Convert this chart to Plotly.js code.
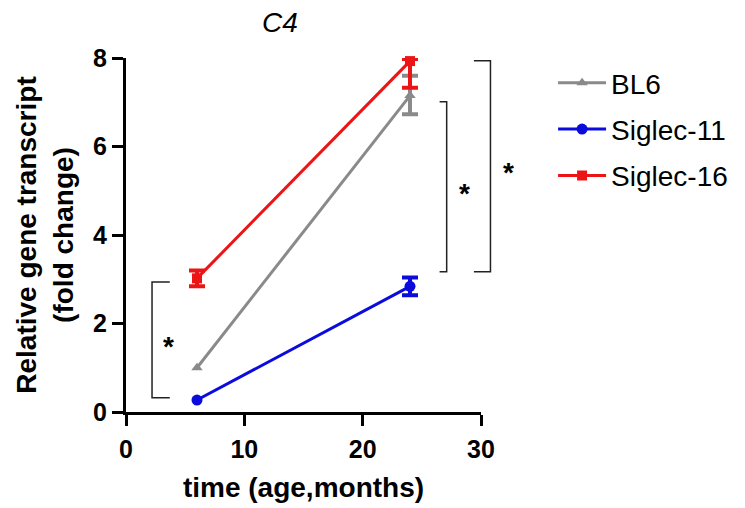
<!DOCTYPE html>
<html>
<head>
<meta charset="utf-8">
<script src="https://cdn.plot.ly/plotly-3.0.1.min.js"></script>
<style>html,body{margin:0;padding:0;background:#fff;}#chart{width:745px;height:508px;}</style>
</head>
<body>
<div id="chart"></div>
<script>
// Data
const timeMonths = [6, 24];
const seriesNames = ["BL6", "Siglec-11", "Siglec-16"];
const bl6 = [1.0, 7.15];
const bl6ErrPlus = [null, 0.45];
const bl6ErrMinus = [null, 0.42];
const siglec11 = [0.27, 2.84];
const siglec11ErrPlus = [null, 0.2];
const siglec11ErrMinus = [null, 0.2];
const siglec16 = [3.02, 7.93];
const siglec16ErrPlus = [0.18, 0.05];
const siglec16ErrMinus = [0.18, 0.6];
const xTicks = [0, 10, 20, 30];
const yTicks = [0, 2, 4, 6, 8];
// significance brackets: [xVertical, xTickStart, yTop, yBottom, starX, starY]
const brackets = [
  [2.2, 3.7, 2.94, 0.32, 3.6, 1.58],
  [27.1, 26.5, 7.01, 3.17, 28.6, 5.02],
  [30.8, 29.4, 7.94, 3.17, 32.3, 5.5]
];

const FONT = "Liberation Sans, Arial, sans-serif";
const colors = ["#8a8a8a", "#0b0bdc", "#ec1414"];
const symbols = ["triangle-up", "circle", "square"];
const ys = [bl6, siglec11, siglec16];
const ep = [bl6ErrPlus, siglec11ErrPlus, siglec16ErrPlus];
const em = [bl6ErrMinus, siglec11ErrMinus, siglec16ErrMinus];

// error bars only where an error was read (separate, legend-less traces)
const errTraces = seriesNames.map((n, i) => {
  const idx = timeMonths.map((_, k) => k).filter(k => ep[i][k] !== null);
  return {
    type: "scatter", mode: "markers", showlegend: false, hoverinfo: "skip",
    x: idx.map(k => timeMonths[k]), y: idx.map(k => ys[i][k]),
    marker: {color: "rgba(0,0,0,0)", size: 1},
    error_y: {type: "data", symmetric: false, array: idx.map(k => ep[i][k]),
              arrayminus: idx.map(k => em[i][k]), color: colors[i], thickness: 4, width: 8},
    cliponaxis: false
  };
});

const lineTraces = seriesNames.map((n, i) => ({
  type: "scatter", mode: "lines+markers", name: n, legendgroup: n,
  x: timeMonths, y: ys[i],
  line: {color: colors[i], width: 3},
  marker: {color: colors[i], symbol: symbols[i], size: i === 1 ? 11 : 10},
  cliponaxis: false
}));

const XR = [0, 30], YR = [0, 8];
const px = v => (v - XR[0]) / (XR[1] - XR[0]);
const py = v => (v - YR[0]) / (YR[1] - YR[0]);

const shapes = [];
const annotations = [];
brackets.forEach(b => {
  const [xv, xt, yt, yb, sx, sy] = b;
  const path = `M ${px(xt)},${py(yt)} L ${px(xv)},${py(yt)} L ${px(xv)},${py(yb)} L ${px(xt)},${py(yb)}`;
  shapes.push({type: "path", xref: "paper", yref: "paper", path: path,
    line: {color: "#222", width: 1.5}});
  annotations.push({xref: "paper", yref: "paper", x: px(sx), y: py(sy), yshift: -4,
    text: "<b>*</b>", showarrow: false, font: {family: FONT, size: 28, color: "#000"},
    xanchor: "center", yanchor: "middle"});
});

const layout = {
  width: 745, height: 508,
  margin: {l: 126, r: 264, t: 58, b: 96, autoexpand: false},
  paper_bgcolor: "#fff", plot_bgcolor: "#fff",
  font: {family: FONT, color: "#000"},
  title: {text: "<i>C4</i>", x: 280/745, xanchor: "center", y: 1 - 22/508, yanchor: "middle",
    font: {size: 28, color: "#000"}},
  xaxis: {range: XR, tickvals: xTicks, ticktext: xTicks.map(String),
    showgrid: false, zeroline: false, showline: true, linecolor: "#000", linewidth: 3,
    ticks: "outside", ticklen: 11, tickwidth: 3, tickcolor: "#000", ticklabelstandoff: 2,
    tickfont: {size: 25, family: FONT, weight: "bold"},
    title: {text: "<b>time (age,months)</b>", font: {size: 28}, standoff: 16}},
  yaxis: {range: YR, tickvals: yTicks, ticktext: yTicks.map(String),
    showgrid: false, zeroline: false, showline: true, linecolor: "#000", linewidth: 3,
    ticks: "outside", ticklen: 11, tickwidth: 3, tickcolor: "#000",
    tickfont: {size: 25, family: FONT, weight: "bold"},
    title: {text: "<b>Relative gene transcript<br>(fold change)</b>", font: {size: 28}, standoff: 12}},
  showlegend: true,
  legend: {x: 1.203, y: 1.0, xanchor: "left", yanchor: "top", tracegroupgap: 7, itemwidth: 48,
    font: {size: 28, family: FONT}, bgcolor: "rgba(0,0,0,0)"},
  shapes: shapes,
  annotations: annotations
};

Plotly.newPlot("chart", errTraces.concat(lineTraces), layout, {displayModeBar: false, staticPlot: true});
</script>
</body>
</html>
